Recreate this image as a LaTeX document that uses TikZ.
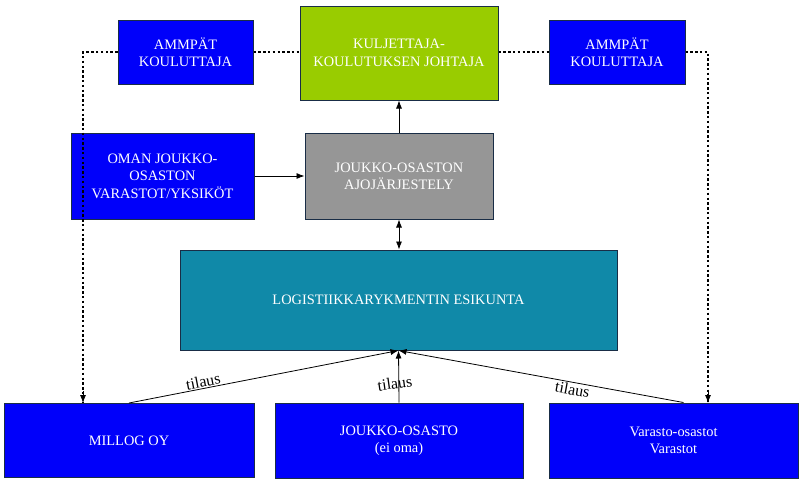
\documentclass[tikz,border=0pt]{standalone}
\usepackage{fontspec}
\setmainfont{Liberation Serif}
\usetikzlibrary{arrows.meta}
\definecolor{boxblue}{RGB}{0,0,250}
\definecolor{boxgreen}{RGB}{153,204,0}
\definecolor{boxgrey}{RGB}{150,150,150}
\definecolor{boxteal}{RGB}{16,137,168}
\definecolor{boxline}{RGB}{25,45,70}
\begin{document}
\begin{tikzpicture}[x=0.5pt,y=-0.5pt,
  box/.style={draw=boxline,line width=0.5pt,inner sep=0pt,align=center,text=white,
    font=\fontsize{7.2}{8.7}\selectfont},
  tip/.style={-{Latex[length=4pt,width=3pt]}},
  dotline/.style={line width=1.4pt,dash pattern=on 1.2pt off 1.2pt},
  order/.style={font=\fontsize{8}{9}\selectfont,inner sep=0.5pt}]
\useasboundingbox (0,0) rectangle (803,483);

\node [box,fill=boxblue,minimum width=67.5pt,minimum height=32pt] (ammL) at (185.5,52) {AMMPÄT\\KOULUTTAJA};
\node [box,fill=boxgreen,minimum width=99pt,minimum height=47pt] (kulj) at (399,53) {KULJETTAJA-\\KOULUTUKSEN JOHTAJA};
\node [box,fill=boxblue,minimum width=68pt,minimum height=32pt] (ammR) at (617,52) {AMMPÄT\\KOULUTTAJA};

\node [box,fill=boxblue,minimum width=91.5pt,minimum height=43pt] (oman) at (162.5,176) {OMAN JOUKKO-\\OSASTON\\VARASTOT/YKSIKÖT};
\node [box,fill=boxgrey,minimum width=94pt,minimum height=43pt] (ajo) at (399,176) {JOUKKO-OSASTON\\AJOJÄRJESTELY};

\node [box,fill=boxteal,minimum width=218.5pt,minimum height=50pt] (logi) at (398.5,300) {LOGISTIIKKARYKMENTIN ESIKUNTA};

\node [box,fill=boxblue,minimum width=125pt,minimum height=37pt] (millog) at (129,440.5) {MILLOG OY};
\node [box,fill=boxblue,minimum width=124pt,minimum height=37.5pt] (joukko) at (399,440.5) {JOUKKO-OSASTO\\(ei oma)};
\node [box,fill=boxblue,minimum width=124.5pt,minimum height=37.5pt] (varasto) at (673.5,440.5) {Varasto-osastot\\Varastot};

\coordinate (ml) at (83,403);
\coordinate (vr) at (708,403);

\draw [dotline] (ammL.east) -- (ammL.east -| kulj.west);
\draw [dotline] (kulj.east |- ammR.west) -- (ammR.west);
\draw [dotline] (ammL.west) -| (ml);
\draw [dotline] (ammR.east) -| (vr);
\draw [tip] ([yshift=6pt]ml) -- (ml);
\draw [tip] ([yshift=6pt]vr) -- (vr);

\draw [tip] (ajo.north) -- (kulj.south);
\draw [tip] (oman.east) -- (ajo.west);
\draw [{Latex[length=4pt,width=3pt]}-{Latex[length=4pt,width=3pt]}] (ajo.south) -- (ajo.south |- logi.north);

\draw [tip] (millog.north) -- node [order,sloped,above,pos=0.28] {tilaus} (logi.south);
\draw [tip] (joukko.north) -- node [order,rotate=8,pos=0.38,xshift=-2pt] {tilaus} (logi.south);
\draw [tip] ([xshift=5pt]varasto.north) -- node [order,sloped,below,pos=0.385] {tilaus} (logi.south);

\end{tikzpicture}
\end{document}
